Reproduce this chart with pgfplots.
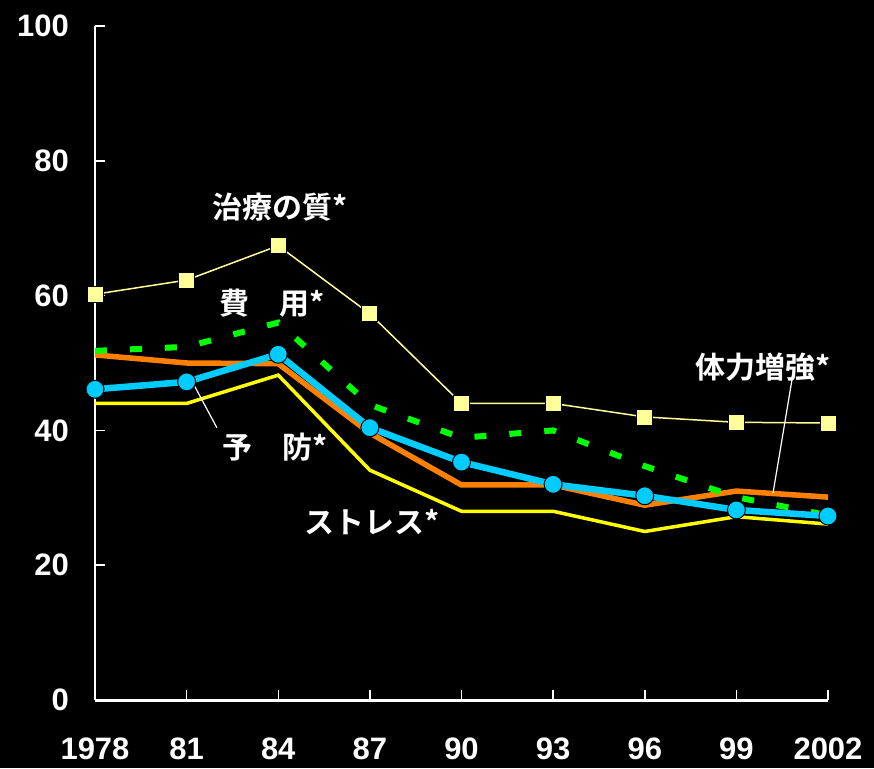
\documentclass[border=0pt]{standalone}
\usepackage{pgfplots}
\pgfplotsset{compat=1.18}
\usepackage{fontspec}
\setmainfont{Liberation Sans}
\newfontfamily\numfont{Liberation Sans}
\newfontfamily\jp{Noto Sans CJK JP}[UprightFont=* Bold]
\definecolor{cyanc}{RGB}{0,204,255}
\definecolor{orangec}{RGB}{255,128,0}
\definecolor{yellowc}{RGB}{255,255,0}
\definecolor{lyellow}{RGB}{255,255,153}
\definecolor{greenc}{RGB}{0,255,0}
\begin{document}
\begin{tikzpicture}
\fill[black] (-95pt,-68pt) rectangle (779pt,700pt);
\begin{axis}[at={(0pt,0pt)}, anchor=south west, scale only axis,
  width=733pt, height=674pt,
  xmin=1978, xmax=2002, ymin=0, ymax=100,
  axis x line=bottom, axis y line=left,
  x axis line style={-, white, line width=3pt},
  y axis line style={-, white, line width=1.5pt},
  xtick={1978,1981,1984,1987,1990,1993,1996,1999,2002},
  xticklabels={1978,81,84,87,90,93,96,99,2002},
  ytick={0,20,40,60,80,100},
  tick align=inside, major tick length=10pt,
  tick style={white, line width=1.5pt},
  /pgf/number format/assume math mode=true,
  ticklabel style={font=\numfont\bfseries\fontsize{31}{31}\selectfont, text=white, inner sep=0pt},
  xticklabel style={anchor=north, yshift=-38pt},
  yticklabel style={anchor=east, xshift=-26pt},
  clip=false,
]
\addplot[yellowc, line width=3.5pt] coordinates {(1978,44) (1981,44) (1984,48.2) (1987,34.1) (1990,28) (1993,28) (1996,25) (1999,27.2) (2002,26.1)};
\addplot[orangec, line width=5.5pt] coordinates {(1978,51.2) (1981,50) (1984,49.9) (1987,39.6) (1990,31.9) (1993,31.9) (1996,28.9) (1999,31) (2002,30.1)};
\addplot[greenc, line width=6pt, dash pattern=on 12pt off 23pt] coordinates {(1978,51.8) (1981,52.4) (1984,56) (1987,43.8) (1990,38.9) (1993,40) (1996,34.7) (1999,30.1) (2002,27.4)};
\addplot[cyanc, line width=6.5pt, mark=*, mark size=9pt, mark options={fill=cyanc, draw=black, line width=1pt}] coordinates {(1978,46.1) (1981,47.2) (1984,51.3) (1987,40.4) (1990,35.3) (1993,32) (1996,30.3) (1999,28.2) (2002,27.3)};
\addplot[lyellow, line width=1.5pt, mark=square*, mark size=8pt, mark options={fill=lyellow, draw=black, line width=0.8pt}] coordinates {(1978,60.2) (1981,62.3) (1984,67.4) (1987,57.3) (1990,44) (1993,44) (1996,42) (1999,41.2) (2002,41.1)};
\draw[white, line width=1.2pt] (axis cs:1981.21,47.0) -- (axis cs:1981.99,40.4);
\draw[white, line width=1.2pt] (axis cs:2000.82,47.5) -- (axis cs:2000.2,30.7);
\node[text=white, font=\jp\fontsize{30}{30}\selectfont, inner sep=0pt] at (axis cs:1984.06,73.1) {治療の質*};
\node[text=white, font=\jp\fontsize{30}{30}\selectfont, inner sep=0pt] at (axis cs:1983.8,58.9) {費　用*};
\node[text=white, font=\jp\fontsize{30}{30}\selectfont, inner sep=0pt] at (axis cs:1983.9,37.5) {予　防*};
\node[text=white, font=\jp\fontsize{30}{30}\selectfont, inner sep=0pt] at (axis cs:1987.07,26.4) {ストレス*};
\node[text=white, font=\jp\fontsize{30}{30}\selectfont, inner sep=0pt] at (axis cs:1999.87,49.4) {体力増強*};
\end{axis}
\end{tikzpicture}
\end{document}
